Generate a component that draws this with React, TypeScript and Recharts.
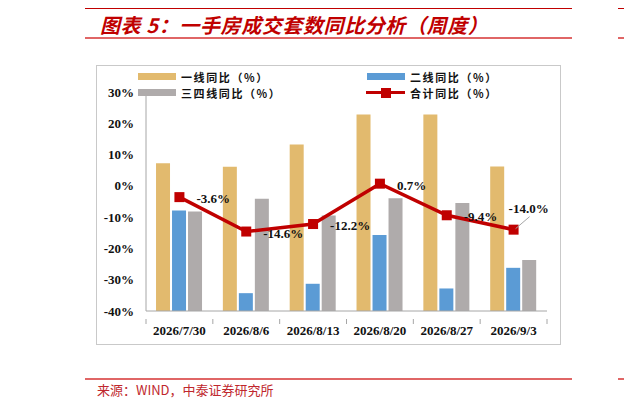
import React from "react";
import {
  ComposedChart,
  Bar,
  Line,
  XAxis,
  YAxis,
  LabelList,
} from "recharts";

// ---- data ----
const categories = ["2026/7/30", "2026/8/6", "2026/8/13", "2026/8/20", "2026/8/27", "2026/9/3"];
const tier1 = [7.2, 6.1, 13.2, 22.8, 22.8, 6.2];
const tier2 = [-7.9, -34.3, -31.3, -15.7, -32.8, -26.2];
const tier34 = [-8.2, -4.1, -9.5, -4.0, -5.5, -23.7];
const total = [-3.6, -14.6, -12.2, 0.7, -9.4, -14.0];
const yTicks = [30, 20, 10, 0, -10, -20, -30, -40];

const AXIS_MIN = -40;
const AXIS_MAX = 30;

const rows = categories.map((c, i) => ({
  date: c,
  t1: tier1[i],
  t2: tier2[i],
  t34: tier34[i],
  total: total[i],
}));

// ---- colours / fonts ----
const GOLD = "#E2BA6E";
const BLUE = "#5B9BD5";
const GRAY = "#AFABAB";
const RED = "#C00000";
const AXIS = "#A6A6A6";
const SERIF = "'Liberation Serif', 'Times New Roman', serif";
const CJK = "'Noto Sans CJK SC', sans-serif";

// chart geometry
const CHART_W = 465;
const CHART_H = 280;
const M = { top: 27, right: 14, left: 0, bottom: 0 };
const Y_W = 50;
const BAND = (CHART_W - M.left - M.right - Y_W) / categories.length;

function XTick(props: any) {
  const { x, y, payload, index } = props;
  const left = x - BAND / 2;
  return (
    <g>
      <line x1={left} y1={y} x2={left} y2={y + 5} stroke={AXIS} />
      {index === categories.length - 1 && (
        <line x1={x + BAND / 2} y1={y} x2={x + BAND / 2} y2={y + 5} stroke={AXIS} />
      )}
      <text
        x={x}
        y={y + 11}
        textAnchor="middle"
        dominantBaseline="central"
        fontFamily={SERIF}
        fontWeight="bold"
        fontSize={13}
        fill="#111"
      >
        {payload.value}
      </text>
    </g>
  );
}

function SquareDot(props: any) {
  const { cx, cy } = props;
  if (cx == null || cy == null) return null;
  return <rect x={cx - 5} y={cy - 5} width={10} height={10} fill={RED} />;
}

function TotalLabel(props: any) {
  const { x, y, value, index } = props;
  const txt = `${Number(value).toFixed(1)}%`;
  if (index === total.length - 1) {
    return (
      <g>
        <line x1={x + 2} y1={y - 1} x2={x + 16} y2={y - 13} stroke="#A6A6A6" strokeWidth={1} />
        <text
          x={x - 5}
          y={y - 21}
          dominantBaseline="central"
          fontFamily={SERIF}
          fontWeight="bold"
          fontSize={13}
          fill="#111"
        >
          {txt}
        </text>
      </g>
    );
  }
  return (
    <text
      x={x + 17}
      y={y + 1.5}
      dominantBaseline="central"
      fontFamily={SERIF}
      fontWeight="bold"
      fontSize={13}
      fill="#111"
    >
      {txt}
    </text>
  );
}

function LegendItem({ left, top, kind, color, label }: any) {
  return (
    <div style={{ position: "absolute", left, top, height: 14, display: "flex", alignItems: "center" }}>
      {kind === "bar" ? (
        <div style={{ width: 38, height: 7, background: color }} />
      ) : (
        <div style={{ position: "relative", width: 39, height: 10 }}>
          <div style={{ position: "absolute", left: 0, top: 3.5, width: 39, height: 3, background: color }} />
          <div style={{ position: "absolute", left: 15, top: 0, width: 10, height: 10, background: color }} />
        </div>
      )}
      <span
        style={{
          marginLeft: 5,
          fontFamily: CJK,
          fontSize: 11,
          lineHeight: "14px",
          fontWeight: 600,
          color: "#111",
          letterSpacing: 1.6,
          whiteSpace: "nowrap",
        }}
      >
        {label}
      </span>
    </div>
  );
}

export default function App() {
  return (
    <div style={{ position: "relative", width: 632, height: 409, margin: -8, background: "#fff", overflow: "hidden" }}>
      {/* title block */}
      <div style={{ position: "absolute", left: 85, top: 6, width: 487, height: 3, background: RED }} />
      <div style={{ position: "absolute", left: 618, top: 6, width: 14, height: 3, background: RED }} />
      <div
        style={{
          position: "absolute",
          left: 100,
          top: 11,
          fontFamily: CJK,
          fontSize: 20,
          fontWeight: "bold",
          fontStyle: "italic",
          color: RED,
          whiteSpace: "nowrap",
          lineHeight: "28px",
          letterSpacing: 0.6,
        }}
      >
        图表 5：一手房成交套数同比分析（周度）
      </div>
      <div style={{ position: "absolute", left: 85, top: 37, width: 487, height: 1.5, background: "#E06666" }} />
      <div style={{ position: "absolute", left: 618, top: 37, width: 14, height: 1.5, background: "#E06666" }} />

      {/* chart box */}
      <div
        style={{
          position: "absolute",
          left: 96,
          top: 65,
          width: CHART_W,
          height: CHART_H,
          border: "1px solid #C9C9C9",
          boxSizing: "border-box",
        }}
      />
      <div style={{ position: "absolute", left: 628, top: 53, width: 1, height: 307, background: "#F0F0F0" }} />
      <div style={{ position: "absolute", left: 628, top: 359, width: 4, height: 1.5, background: "#C9C9C9" }} />

      <div style={{ position: "absolute", left: 96, top: 65 }}>
        <ComposedChart
          width={CHART_W}
          height={CHART_H}
          data={rows}
          margin={M}
          barCategoryGap="15%"
          barGap={2}
        >
          <XAxis
            dataKey="date"
            height={34}
            axisLine={{ stroke: AXIS }}
            tickLine={false}
            tick={<XTick />}
            interval={0}
          />
          <YAxis
            width={Y_W}
            domain={[AXIS_MIN, AXIS_MAX]}
            ticks={yTicks}
            interval={0}
            axisLine={{ stroke: AXIS }}
            tickLine={false}
            tickMargin={6}
            tickFormatter={(v: number) => `${v}%`}
            tick={{ fontFamily: SERIF, fontWeight: "bold", fontSize: 13, fill: "#111" }}
          />
          <Bar dataKey={(d: any) => [AXIS_MIN, d.t1]} fill={GOLD} isAnimationActive={false} />
          <Bar dataKey={(d: any) => [AXIS_MIN, d.t2]} fill={BLUE} isAnimationActive={false} />
          <Bar dataKey={(d: any) => [AXIS_MIN, d.t34]} fill={GRAY} isAnimationActive={false} />
          <Line
            dataKey="total"
            stroke={RED}
            strokeWidth={3.5}
            dot={<SquareDot />}
            activeDot={false}
            isAnimationActive={false}
          >
            <LabelList dataKey="total" content={<TotalLabel />} />
          </Line>
        </ComposedChart>
      </div>

      {/* legend */}
      <LegendItem left={138} top={69.5} kind="bar" color={GOLD} label="一线同比（%）" />
      <LegendItem left={367} top={69.5} kind="bar" color={BLUE} label="二线同比（%）" />
      <LegendItem left={138} top={85.5} kind="bar" color={GRAY} label="三四线同比（%）" />
      <LegendItem left={366} top={85.5} kind="line" color={RED} label="合计同比（%）" />

      {/* footer */}
      <div style={{ position: "absolute", left: 85, top: 378, width: 487, height: 2, background: "#E06666" }} />
      <div style={{ position: "absolute", left: 618, top: 378, width: 14, height: 2, background: "#E06666" }} />
      <div
        style={{
          position: "absolute",
          left: 97,
          top: 381,
          fontFamily: CJK,
          fontSize: 13,
          color: "#C0272D",
          whiteSpace: "nowrap",
          lineHeight: "18px",
        }}
      >
        来源：WIND，中泰证券研究所
      </div>
    </div>
  );
}
